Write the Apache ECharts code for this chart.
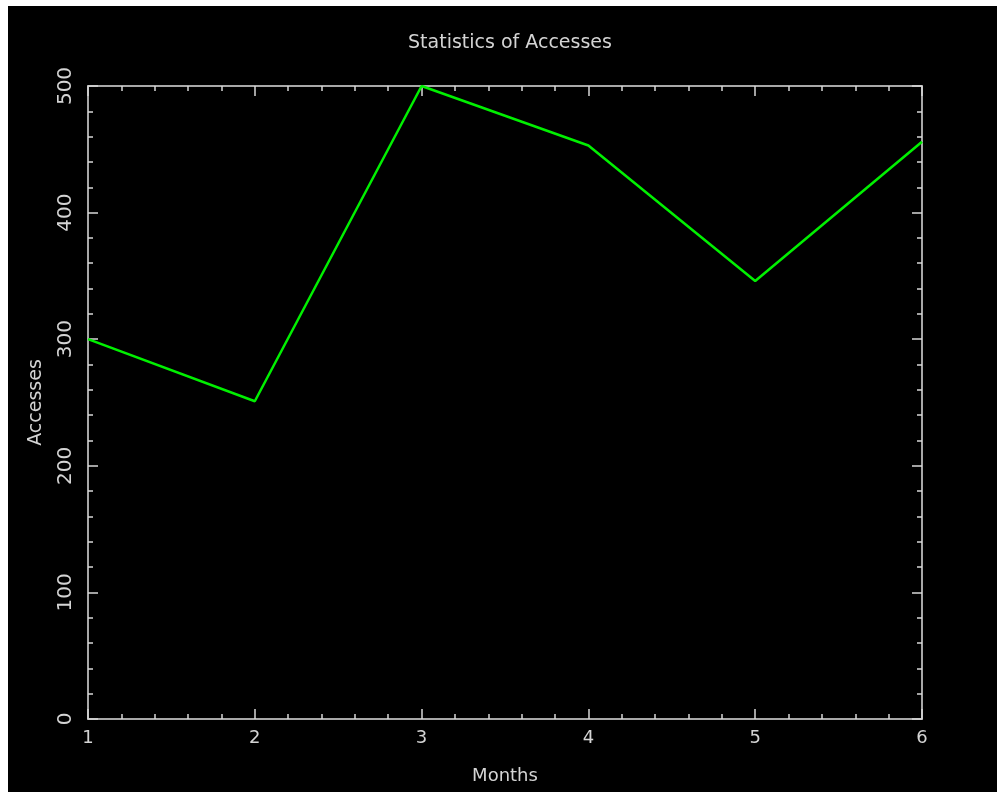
<!DOCTYPE html>
<html>
<head>
<meta charset="utf-8">
<script src="https://cdn.jsdelivr.net/npm/echarts@6/dist/echarts.min.js"></script>
<style>
html,body{margin:0;padding:0;background:#fff;}
#c{width:997px;height:792px;}
</style>
</head>
<body>
<div id="c"></div>
<script>
const months = [1, 2, 3, 4, 5, 6];
const accesses = [300, 251, 500, 453, 346, 456];
const titleText = 'Statistics of Accesses';
const xName = 'Months';
const yName = 'Accesses';

const chart = echarts.init(document.getElementById('c'), null, {renderer: 'canvas'});
const fontFam = '"DejaVu Sans", sans-serif';
const txtColor = '#d4d4d4';
const axisColor = '#a8a8a8';
const tickColor = '#d8d8d8';

function axisCommon(showLabel) {
  return {
    axisLine: {show: true, onZero: false, lineStyle: {color: axisColor, width: 2}},
    axisTick: {show: true, inside: true, length: 10, lineStyle: {color: tickColor, width: 1.5}},
    minorTick: {show: true, splitNumber: 5, length: 5, lineStyle: {color: tickColor, width: 1.5}},
    splitLine: {show: false},
    axisLabel: {show: showLabel, color: txtColor, fontFamily: fontFam, fontSize: 18}
  };
}

const xBottom = Object.assign({
  type: 'value', position: 'bottom', min: 1, max: 6, interval: 1,
  name: xName, nameLocation: 'middle', nameGap: 48,
  nameTextStyle: {color: txtColor, fontFamily: fontFam, fontSize: 18}
}, axisCommon(true));
xBottom.axisLabel.margin = 10;

const xTop = Object.assign({type: 'value', position: 'top', min: 1, max: 6, interval: 1}, axisCommon(false));

const yLeft = Object.assign({
  type: 'value', position: 'left', min: 0, max: 500, interval: 100,
  name: yName, nameLocation: 'middle', nameGap: 42,
  nameTextStyle: {color: txtColor, fontFamily: fontFam, fontSize: 19}
}, axisCommon(true));
yLeft.axisLabel.rotate = 90;
yLeft.axisLabel.margin = 12;
yLeft.axisLabel.fontSize = 20;

const yRight = Object.assign({type: 'value', position: 'right', min: 0, max: 500, interval: 100}, axisCommon(false));

chart.setOption({
  backgroundColor: '#ffffff',
  animation: false,
  graphic: [{type: 'rect', z: -10, silent: true, shape: {x: 8, y: 6, width: 989, height: 786}, style: {fill: '#000'}}],
  title: {
    text: titleText, left: 505, top: 29, textAlign: 'center',
    textStyle: {color: txtColor, fontFamily: fontFam, fontSize: 19, fontWeight: 'normal'}
  },
  grid: {left: 88, top: 86, width: 834, height: 633, containLabel: false},
  xAxis: [xBottom, xTop],
  yAxis: [yLeft, yRight],
  series: [{
    type: 'line', xAxisIndex: 0, yAxisIndex: 0,
    data: months.map((m, i) => [m, accesses[i]]),
    showSymbol: false, symbol: 'none',
    lineStyle: {color: '#00f000', width: 2.5}
  }]
});
</script>
</body>
</html>
